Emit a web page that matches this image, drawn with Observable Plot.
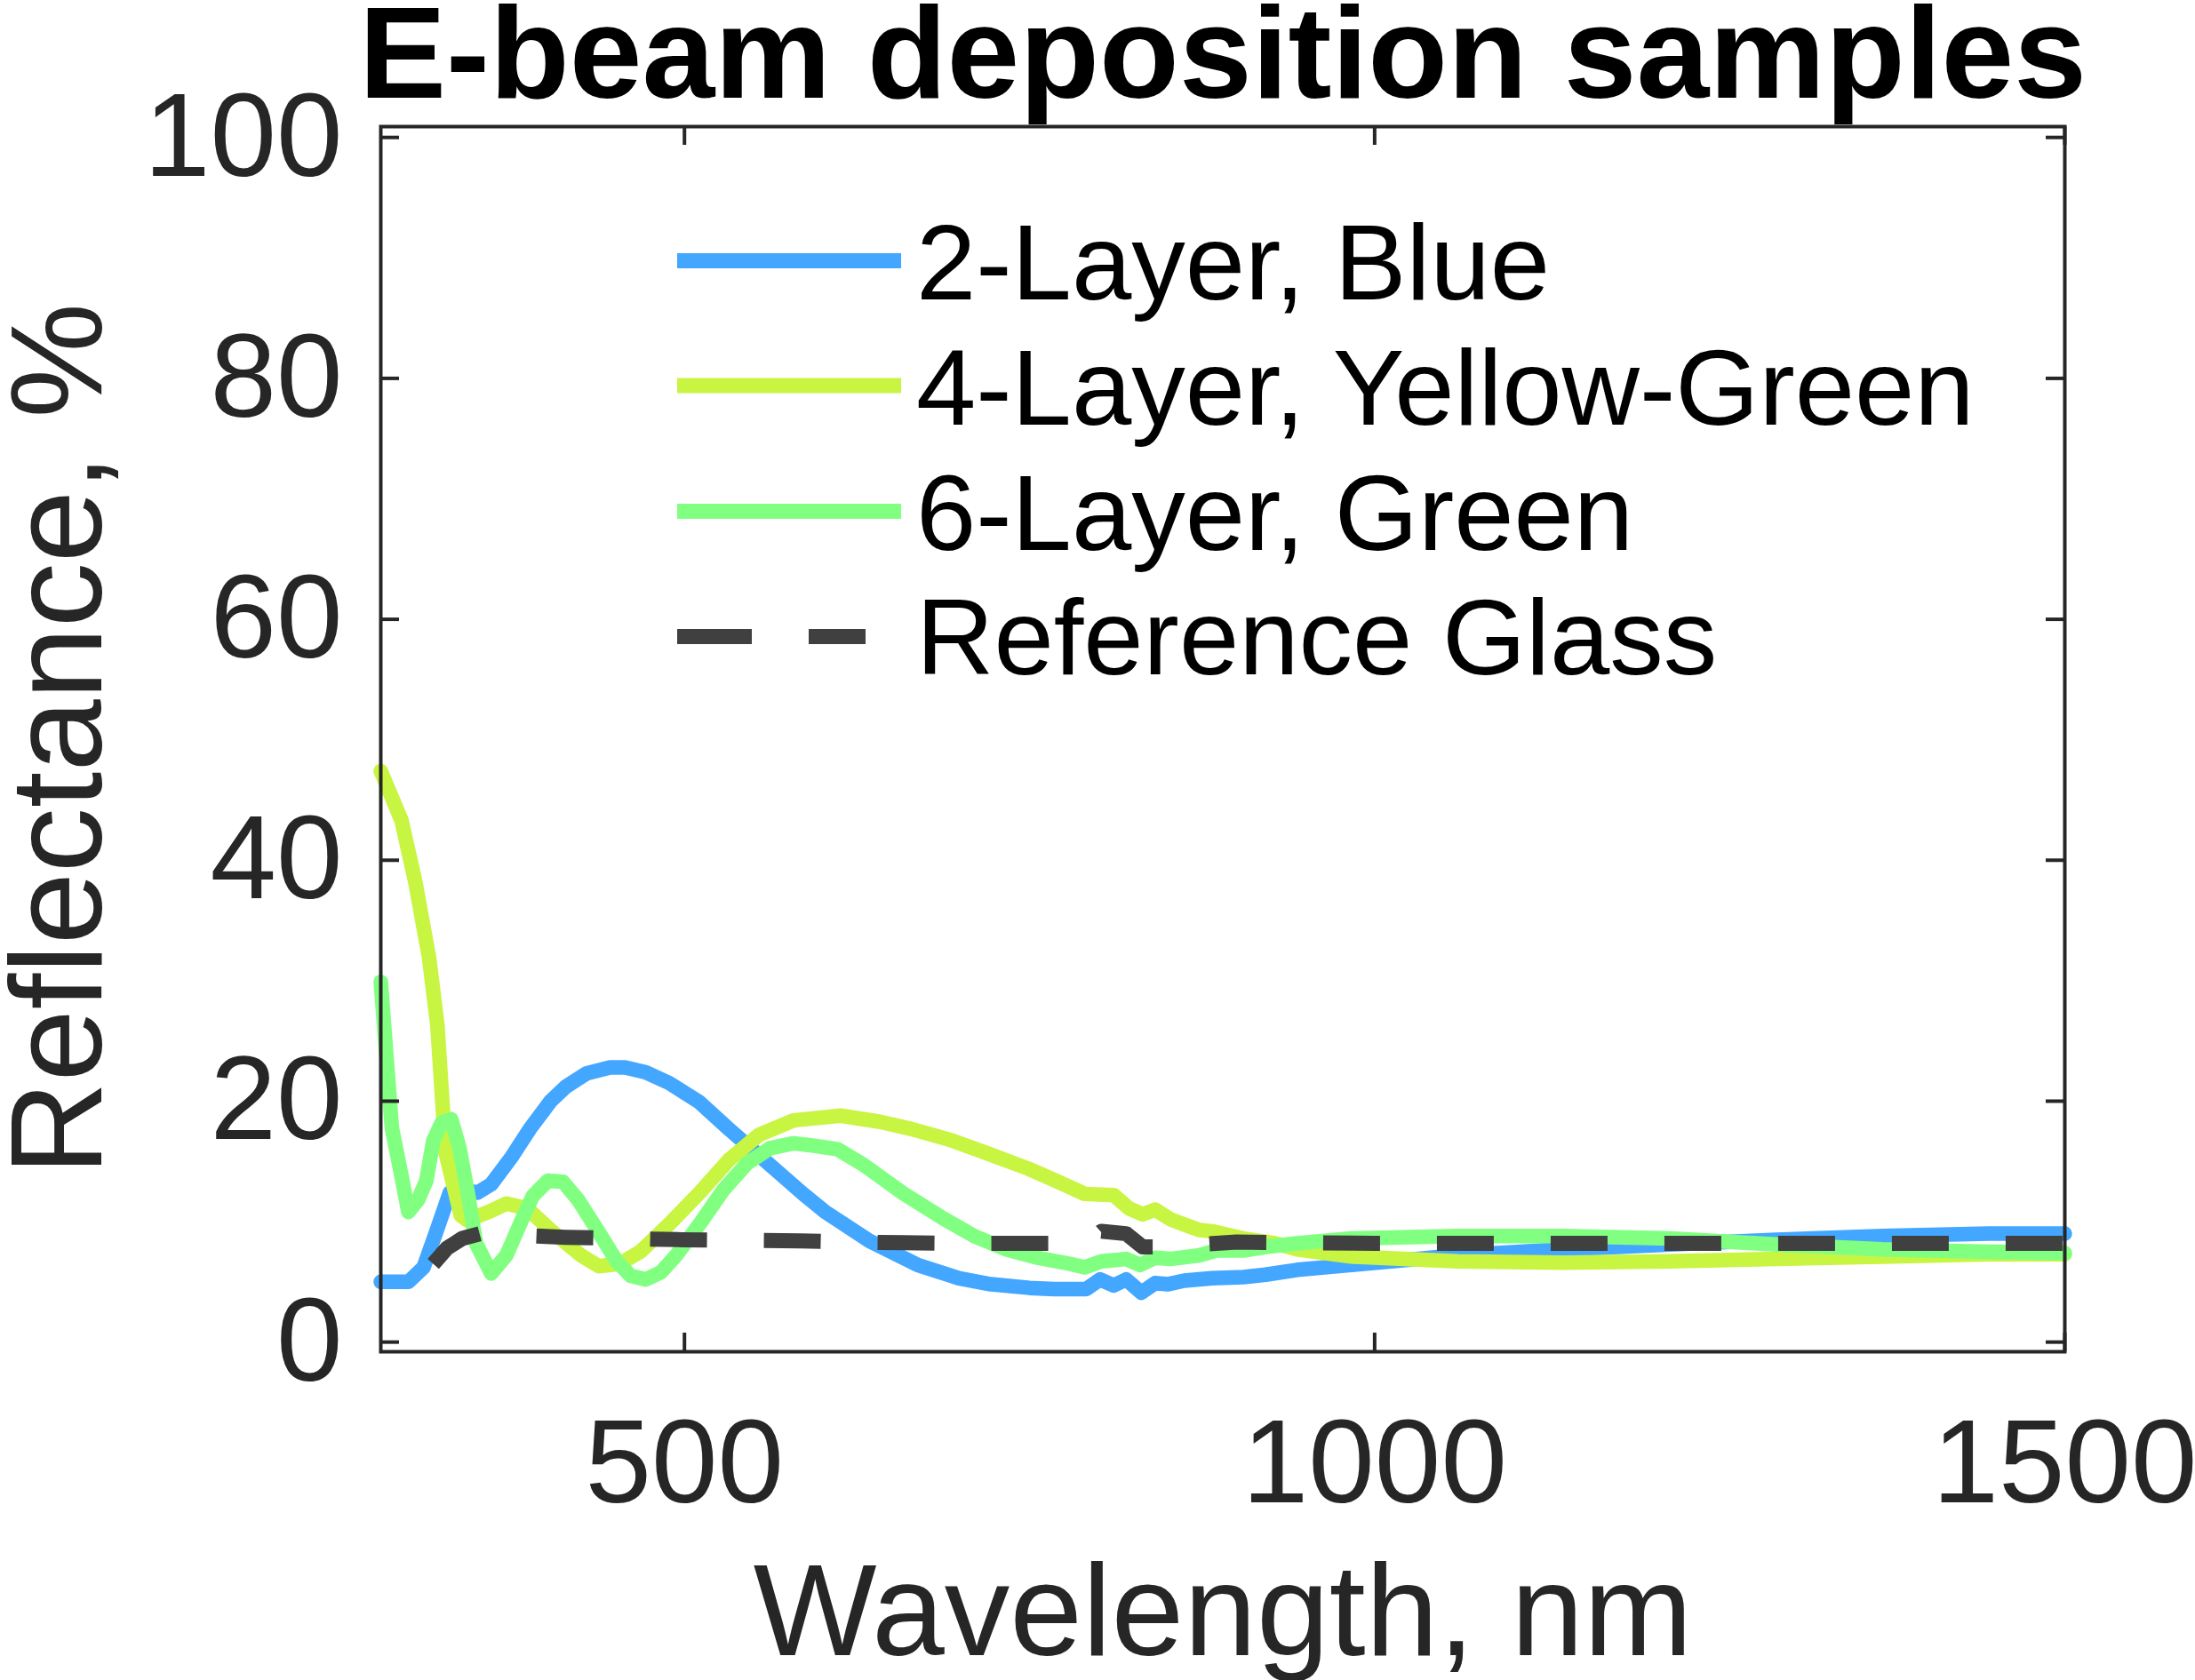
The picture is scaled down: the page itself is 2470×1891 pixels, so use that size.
<!DOCTYPE html>
<html>
<head>
<meta charset="utf-8">
<script src="https://cdn.jsdelivr.net/npm/d3@7"></script>
<script src="https://cdn.jsdelivr.net/npm/@observablehq/plot@0.6"></script>
<style>
  html, body { margin: 0; padding: 0; background: #fff; }
  #wrap { position: relative; width: 2470px; height: 1891px; }
  #legend { position: absolute; left: 0; top: 0; pointer-events: none; }
</style>
</head>
<body>
<div id="wrap"></div>
<script>
// ---------- data ----------
const titleText = "E-beam deposition samples";
const xLabel = "Wavelength, nm";
const yLabel = "Reflectance, %";
const xTicks = [500, 1000, 1500];
const yTicks = [0, 20, 40, 60, 80, 100];

const seriesNames = ["2-Layer, Blue", "4-Layer, Yellow-Green", "6-Layer, Green", "Reference Glass"];
const seriesColors = ["#43A6FF", "#C8F542", "#80FF80", "#404040"];

const blueWl = [280,300,311,320,330,339,350,360,375,388,403,414,429,446,457,472,489,511,532,558,586,602,634,669,699,722,750,768,791,801,811,820,831,841,850,862,882,905,921,944,983,1060,1137,1214,1291,1368,1445,1500];
const blueR  = [5.0,5.0,6.2,9.1,12.4,12.7,12.4,13.1,15.4,17.7,20.0,21.2,22.3,22.8,22.8,22.4,21.5,19.9,17.7,15.1,12.3,10.8,8.4,6.4,5.3,4.8,4.5,4.4,4.4,5.2,4.7,5.2,4.1,4.9,4.8,5.1,5.3,5.4,5.6,6.0,6.4,7.2,7.7,8.1,8.5,8.8,9.0,9.0];

const yellowWl = [280,295,305,315,321,327,338,343,358,371,386,403,425,438,453,468,489,511,532,554,579,613,641,664,692,721,749,767,790,811,822,832,841,852,861,873,882,905,928,944,983,1060,1137,1214,1291,1368,1445,1500];
const yellowR  = [47.4,43.3,38.2,31.9,26.3,15.7,10.5,10.1,10.8,11.5,11.1,9.3,7.2,6.3,6.5,7.5,9.8,12.4,15.1,17.2,18.4,18.8,18.3,17.7,16.8,15.6,14.4,13.5,12.3,12.2,11.1,10.6,11.0,10.2,9.8,9.3,9.2,8.6,8.2,7.7,7.1,6.7,6.6,6.7,6.9,7.1,7.3,7.3];

const greenWl = [280,288,295,300,307,313,318,324,331,337,343,349,360,371,382,390,401,412,423,438,451,461,472,483,494,511,528,545,562,579,594,611,630,659,687,710,733,756,779,790,802,820,830,841,852,873,885,905,921,944,983,1060,1137,1214,1291,1368,1445,1500];
const greenR  = [29.9,17.8,13.8,10.8,11.8,13.4,16.7,18.2,18.5,16.1,12.4,8.2,5.7,7.2,10.1,12.1,13.4,13.3,11.8,9.1,6.7,5.5,5.2,5.8,7.2,9.8,12.6,14.8,16.1,16.5,16.3,16.0,14.7,12.3,10.3,8.8,7.7,7.0,6.5,6.2,6.7,6.9,6.4,7.0,6.9,7.2,7.6,7.6,7.9,8.2,8.6,8.8,8.8,8.6,8.1,7.7,7.5,7.4];

const glassWl = [318,328,339,352,414,498,584,620,700,780,792,802,820,832,843,900,1000,1200,1500];
const glassR  = [6.5,7.8,8.6,9.0,8.7,8.5,8.4,8.3,8.2,8.2,8.2,9.2,9.0,7.9,7.9,8.3,8.2,8.2,8.2];

// ---------- build tables ----------
const toRows = (wl, r) => wl.map((w, i) => ({wl: w, r: r[i]}));
const blue = toRows(blueWl, blueR);
const yellow = toRows(yellowWl, yellowR);
const green = toRows(greenWl, greenR);
const glass = toRows(glassWl, glassR);

// ---------- layout ----------
const W = 2470, H = 1891;
const mL = 428, mR = 147, mT = 142, mB = 370;
const plotW = W - mL - mR, plotH = H - mT - mB;
const tickLen = 21;
const axisColor = "#262626";
const font = "'Liberation Sans', Arial, Helvetica, sans-serif";

const chart = Plot.plot({
  width: W,
  height: H,
  marginLeft: mL,
  marginRight: mR,
  marginTop: mT,
  marginBottom: mB,
  style: {fontFamily: font, color: axisColor, background: "#fff", overflow: "visible"},
  x: {domain: [280, 1500]},
  y: {domain: [-0.8, 100.9]},
  marks: [
    Plot.line(blue, {x: "wl", y: "r", stroke: seriesColors[0], strokeWidth: 16.5, strokeLinejoin: "round"}),
    Plot.line(yellow, {x: "wl", y: "r", stroke: seriesColors[1], strokeWidth: 16.5, strokeLinejoin: "round"}),
    Plot.line(green, {x: "wl", y: "r", stroke: seriesColors[2], strokeWidth: 16.5, strokeLinejoin: "round"}),
    Plot.line(glass, {x: "wl", y: "r", stroke: seriesColors[3], strokeWidth: 17, strokeDasharray: "64,64", strokeLinecap: "butt"}),
    // inward ticks on all four sides
    Plot.tickY(yTicks, {y: d => d, stroke: axisColor, strokeWidth: 4, insetRight: plotW - tickLen}),
    Plot.tickY(yTicks, {y: d => d, stroke: axisColor, strokeWidth: 4, insetLeft: plotW - tickLen}),
    Plot.tickX(xTicks, {x: d => d, stroke: axisColor, strokeWidth: 4, insetTop: plotH - tickLen}),
    Plot.tickX(xTicks, {x: d => d, stroke: axisColor, strokeWidth: 4, insetBottom: plotH - tickLen}),
    Plot.frame({stroke: axisColor, strokeWidth: 4}),
    // tick labels
    Plot.axisY(yTicks, {tickSize: 0, tickPadding: 43, fontSize: 134, label: null, tickFormat: d3.format("d"), fill: axisColor}),
    Plot.axisX(xTicks, {tickSize: 0, tickPadding: 74, fontSize: 134, label: null, tickFormat: d3.format("d"), fill: axisColor}),
    // title and axis labels
    Plot.text([titleText], {frameAnchor: "top", text: d => d, dy: -33, textAnchor: "middle", lineAnchor: "bottom", fontSize: 147, fontWeight: "bold", fill: "#000"}),
    Plot.text([xLabel], {frameAnchor: "bottom", text: d => d, dy: 341, textAnchor: "middle", lineAnchor: "bottom", fontSize: 147, fill: axisColor}),
    Plot.text([yLabel], {frameAnchor: "left", text: d => d, dx: -315, rotate: -90, textAnchor: "middle", lineAnchor: "bottom", fontSize: 146, fill: axisColor})
  ]
});
const wrap = document.getElementById("wrap");
wrap.appendChild(chart);

// ---------- legend (inside the axes, top-left area) ----------
const legendX1 = 762, legendX2 = 1014, legendTextX = 1031;
const legendLineY = [293.5, 434, 575.5, 716.4];
const legendBaseY = [336.5, 478, 618.6, 759.4];
const svg = d3.select(wrap).append("svg")
  .attr("id", "legend")
  .attr("width", W).attr("height", H)
  .style("font-family", font);
seriesNames.forEach((name, i) => {
  const dashed = i === 3;
  svg.append("line")
    .attr("x1", legendX1).attr("x2", dashed ? 974 : legendX2)
    .attr("y1", legendLineY[i]).attr("y2", legendLineY[i])
    .attr("stroke", seriesColors[i])
    .attr("stroke-width", 17)
    .attr("stroke-dasharray", dashed ? "84,64" : null);
  svg.append("text")
    .attr("x", legendTextX).attr("y", legendBaseY[i])
    .attr("font-size", 121)
    .attr("fill", "#000")
    .text(name);
});
</script>
</body>
</html>
